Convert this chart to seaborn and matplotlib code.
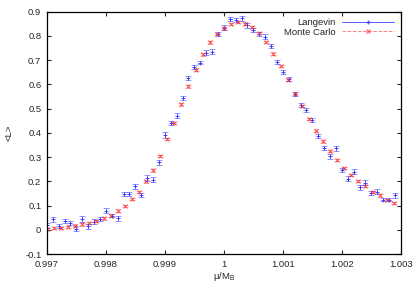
import numpy as np
import matplotlib
matplotlib.use("Agg")
import matplotlib.pyplot as plt
from matplotlib.lines import Line2D
import seaborn as sns

# Langevin: step 1e-4 from 0.997 to 1.0029
lan_x = np.round(np.arange(0.9970, 1.00295, 0.0001), 5)
lan_y = [0.018, 0.043, 0.014, 0.038, 0.027, 0.004, 0.045, 0.014, 0.033, 0.044,
         0.079, 0.059, 0.048, 0.146, 0.149, 0.180, 0.145, 0.213, 0.207, 0.279,
         0.392, 0.440, 0.471, 0.545, 0.625, 0.670, 0.690, 0.731, 0.735, 0.807,
         0.834, 0.868, 0.865, 0.873, 0.843, 0.826, 0.807, 0.796, 0.759, 0.691,
         0.651, 0.622, 0.562, 0.515, 0.496, 0.452, 0.388, 0.336, 0.303, 0.336,
         0.248, 0.211, 0.240, 0.176, 0.194, 0.153, 0.158, 0.125, 0.125, 0.143]
lan_err = [0.010, 0.010, 0.008, 0.008, 0.008, 0.010, 0.012, 0.010, 0.010, 0.008,
           0.010, 0.008, 0.010, 0.008, 0.008, 0.010, 0.008, 0.012, 0.010, 0.010,
           0.012, 0.008, 0.010, 0.008, 0.008, 0.008, 0.008, 0.010, 0.010, 0.008,
           0.010, 0.008, 0.008, 0.010, 0.010, 0.008, 0.008, 0.010, 0.008, 0.008,
           0.008, 0.010, 0.008, 0.008, 0.008, 0.008, 0.008, 0.008, 0.010, 0.010,
           0.008, 0.010, 0.010, 0.010, 0.010, 0.008, 0.010, 0.008, 0.008, 0.010]

# Monte Carlo: step 1.2e-4 from 0.997 to 1.00288
mc_x = np.round(np.arange(0.99700, 1.00290, 0.00012), 5)
mc_y = [0.004, 0.008, 0.008, 0.012, 0.017, 0.022, 0.027, 0.036, 0.047, 0.059,
        0.079, 0.099, 0.126, 0.155, 0.200, 0.245, 0.304, 0.374, 0.441, 0.517,
        0.592, 0.661, 0.724, 0.773, 0.808, 0.831, 0.848, 0.857, 0.851, 0.837,
        0.811, 0.774, 0.727, 0.675, 0.620, 0.562, 0.511, 0.457, 0.409, 0.365,
        0.326, 0.289, 0.254, 0.227, 0.201, 0.180, 0.155, 0.142, 0.124, 0.110]
mc_err = [0.005] * len(mc_y)

x_ticks = [0.997, 0.998, 0.999, 1.0, 1.001, 1.002, 1.003]
x_labels = ["0.997", "0.998", "0.999", "1", "1.001", "1.002", "1.003"]
y_ticks = [-0.1, 0, 0.1, 0.2, 0.3, 0.4, 0.5, 0.6, 0.7, 0.8, 0.9]
y_labels = ["-0.1", "0", "0.1", "0.2", "0.3", "0.4", "0.5", "0.6", "0.7", "0.8", "0.9"]

sns.set_style("ticks")
plt.rcParams['font.family'] = ['Liberation Sans', 'DejaVu Sans']
plt.rcParams['mathtext.fontset'] = 'custom'
plt.rcParams['mathtext.rm'] = 'Liberation Sans'
plt.rcParams['mathtext.it'] = 'Liberation Sans'

fig = plt.figure(figsize=(4.15, 2.91), dpi=100)
ax = fig.add_axes([0.113, 0.127, 0.853, 0.833])

blue = '#3030ff'
red = '#ff3030'

ax.errorbar(lan_x, lan_y, yerr=lan_err, fmt='none', ecolor=blue, elinewidth=0.6,
            capsize=2, capthick=0.6, alpha=0.6)
sns.scatterplot(x=lan_x, y=lan_y, marker='+', color=blue, s=12, linewidth=0.7,
                alpha=0.9, ax=ax)

ax.errorbar(mc_x, mc_y, yerr=mc_err, fmt='none', ecolor=red, elinewidth=0.6,
            capsize=2, capthick=0.6, alpha=0.45)
sns.scatterplot(x=mc_x, y=mc_y, marker='x', color=red, s=8, linewidth=0.7,
                alpha=0.9, ax=ax)

ax.set_xlim(0.997, 1.003)
ax.set_ylim(-0.1, 0.9)
ax.set_xticks(x_ticks)
ax.set_xticklabels(x_labels)
ax.set_yticks(y_ticks)
ax.set_yticklabels(y_labels)
ax.tick_params(direction='in', length=3, width=0.8, labelsize=6.8, top=True, right=True,
               pad=4)
for s in ax.spines.values():
    s.set_linewidth(0.9)
    s.set_color('black')

ax.set_xlabel(r"$\mu$/M$_\mathrm{B}$", fontsize=6.8, labelpad=1)
ax.set_ylabel("<L>", fontsize=6.8, labelpad=8)

handles = [
    Line2D([], [], color=blue, marker='+', lw=0.7, markersize=3.5, alpha=0.8),
    Line2D([], [], color=red, marker='x', lw=0.7, ls='--', markersize=3, alpha=0.6),
]
ax.legend(handles, ["Langevin", "Monte Carlo"], loc='upper right', frameon=False,
          markerfirst=False, fontsize=6.8, handlelength=5.5, borderaxespad=0.3,
          labelspacing=0.05, handletextpad=0.7)

fig.savefig("out.png", dpi=100)
